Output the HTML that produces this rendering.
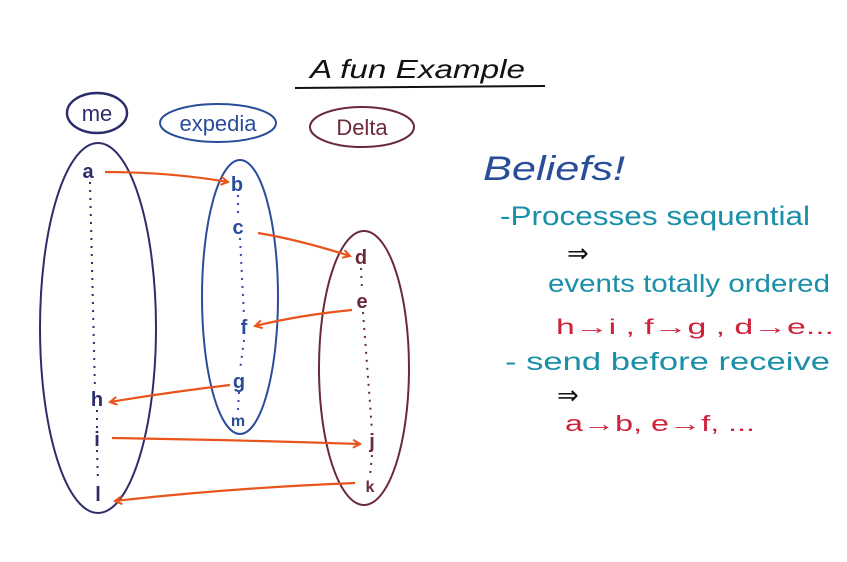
<!DOCTYPE html>
<html><head><meta charset="utf-8"><style>
html,body{margin:0;padding:0;background:#fff;}
svg{display:block;}
text{font-family:"Liberation Sans",sans-serif;}
</style></head><body>
<svg width="847" height="562" viewBox="0 0 847 562" xmlns="http://www.w3.org/2000/svg">
<defs>
<marker id="ar" markerWidth="10" markerHeight="10" refX="8" refY="5" orient="auto" markerUnits="userSpaceOnUse">
<path d="M1,1 L8,5 L1,9" fill="none" stroke="#e8541c" stroke-width="2"/>
</marker>
</defs>
<!-- title -->
<text x="310" y="78" font-size="26" font-style="italic" fill="#111" textLength="215" lengthAdjust="spacingAndGlyphs">A fun Example</text>
<path d="M295,88 L545,86" stroke="#111" stroke-width="2" fill="none"/>
<!-- labels -->
<ellipse cx="97" cy="113" rx="30" ry="20" fill="none" stroke="#2d2d6a" stroke-width="2.5"/>
<text x="97" y="121" font-size="22" fill="#2d2d6a" text-anchor="middle">me</text>
<ellipse cx="218" cy="123" rx="58" ry="19" fill="none" stroke="#2a4d9a" stroke-width="2"/>
<text x="218" y="131" font-size="22" fill="#2a4d9a" text-anchor="middle">expedia</text>
<ellipse cx="362" cy="127" rx="52" ry="20" fill="none" stroke="#6b2a3a" stroke-width="2"/>
<text x="362" y="135" font-size="22" fill="#6b2a3a" text-anchor="middle">Delta</text>
<!-- big ellipses -->
<ellipse cx="98" cy="328" rx="58" ry="185" fill="none" stroke="#2d2d6a" stroke-width="2"/>
<ellipse cx="240" cy="297" rx="38" ry="137" fill="none" stroke="#2a4d9a" stroke-width="2"/>
<ellipse cx="364" cy="368" rx="45" ry="137" fill="none" stroke="#6b2a3a" stroke-width="2"/>
<!-- dotted lines -->
<g stroke-dasharray="2,6" stroke-width="2" fill="none">
<path d="M90,182 L95,390" stroke="#2d2d6a"/>
<path d="M97,410 L97,428" stroke="#2d2d6a"/>
<path d="M97,450 L98,482" stroke="#2d2d6a"/>
<path d="M238,195 L238,216" stroke="#2a4d9a"/>
<path d="M240,238 L244,316" stroke="#2a4d9a"/>
<path d="M244,340 L240,370" stroke="#2a4d9a"/>
<path d="M239,392 L238,410" stroke="#2a4d9a"/>
<path d="M361,268 L362,290" stroke="#6b2a3a"/>
<path d="M363,312 L372,430" stroke="#6b2a3a"/>
<path d="M372,455 L370,476" stroke="#6b2a3a"/>
</g>
<!-- letters -->
<g font-size="20" text-anchor="middle" font-weight="bold">
<text x="88" y="178" fill="#2d2d6a">a</text>
<text x="97" y="406" fill="#2d2d6a">h</text>
<text x="97" y="446" fill="#2d2d6a">i</text>
<text x="98" y="501" fill="#2d2d6a">l</text>
<text x="237" y="191" fill="#2a4d9a">b</text>
<text x="238" y="234" fill="#2a4d9a">c</text>
<text x="244" y="334" fill="#2a4d9a">f</text>
<text x="239" y="388" fill="#2a4d9a">g</text>
<text x="238" y="426" fill="#2a4d9a" font-size="16">m</text>
<text x="361" y="264" fill="#6b2a3a">d</text>
<text x="362" y="308" fill="#6b2a3a">e</text>
<text x="372" y="448" fill="#6b2a3a">j</text>
<text x="370" y="492" fill="#6b2a3a" font-size="16">k</text>
</g>
<!-- arrows -->
<g stroke="#e8541c" stroke-width="2.2" fill="none" marker-end="url(#ar)">
<path d="M105,172 Q170,172 228,182"/>
<path d="M258,233 Q300,240 350,256"/>
<path d="M352,310 Q300,315 255,326"/>
<path d="M230,385 Q170,392 110,402"/>
<path d="M112,438 Q240,440 360,444"/>
<path d="M355,483 Q230,488 115,501"/>
</g>
<!-- right text -->
<text x="483" y="180" font-size="34" fill="#2a4d9a" font-style="italic" textLength="142" lengthAdjust="spacingAndGlyphs">Beliefs!</text>
<text x="500" y="225" font-size="27" fill="#1a8fa8" textLength="310" lengthAdjust="spacingAndGlyphs">-Processes sequential</text>
<text x="567" y="262" font-size="26" fill="#111">⇒</text>
<text x="548" y="292" font-size="25" fill="#1a8fa8" textLength="282" lengthAdjust="spacingAndGlyphs">events totally ordered</text>
<text x="556" y="334" font-size="21" fill="#d0203a" textLength="278" lengthAdjust="spacingAndGlyphs">h→i , f→g , d→e...</text>
<text x="505" y="370" font-size="25" fill="#1a8fa8" textLength="325" lengthAdjust="spacingAndGlyphs">- send before receive</text>
<text x="557" y="404" font-size="26" fill="#111">⇒</text>
<text x="565" y="431" font-size="22" fill="#d0203a" textLength="190" lengthAdjust="spacingAndGlyphs">a→b, e→f, ...</text>
</svg>
</body></html>
